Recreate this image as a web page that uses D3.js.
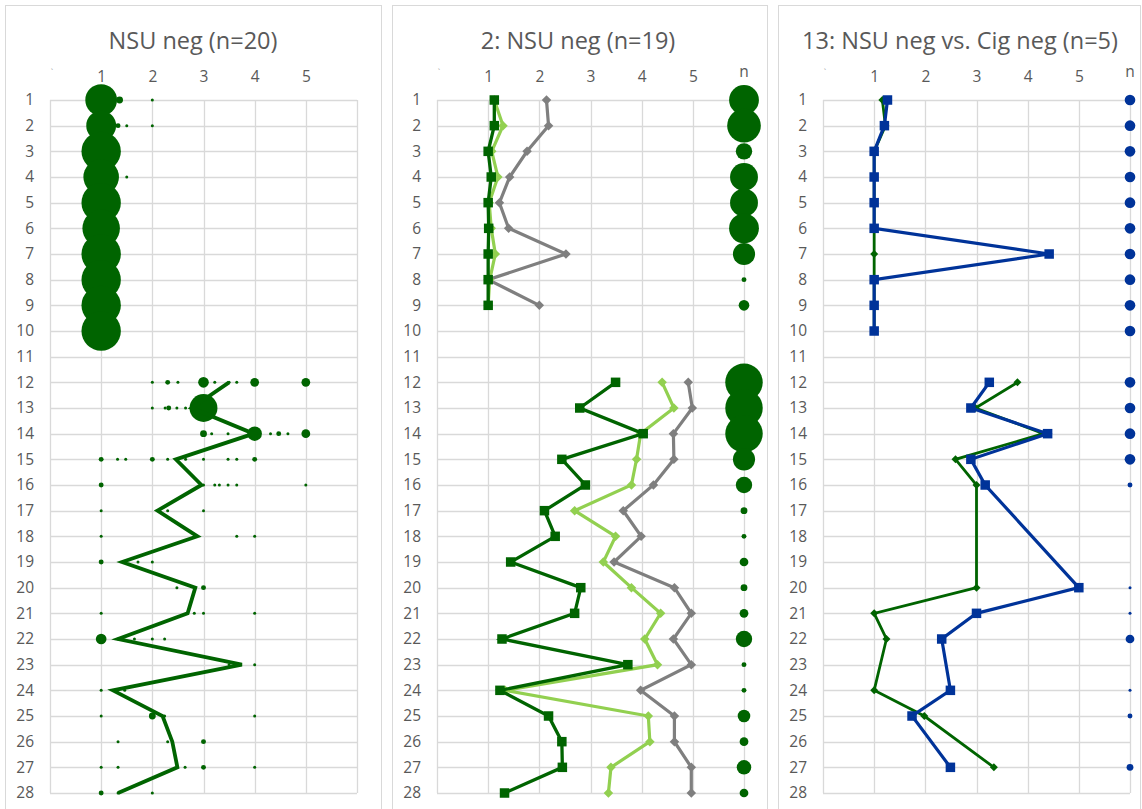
<!DOCTYPE html>
<html><head><meta charset="utf-8">
<script src="https://cdn.jsdelivr.net/npm/d3@7"></script>
<style>
body{margin:0;background:#fff;}
text{font-family:"Open Sans","Noto Sans",sans-serif;}
</style></head>
<body>
<svg id="chart" width="1142" height="809"></svg>
<script>
// ---------- DATA ----------
const rowLabels = d3.range(1, 29).map(String);
const xTickValues = [1, 2, 3, 4, 5];
const titles = ["NSU neg (n=20)", "2: NSU neg (n=19)", "13: NSU neg vs. Cig neg (n=5)"];

// Panel 1: response distribution [row, score, count]
const p1Bubbles = [
  [1,1,16],[1,1.36,3],[1,2,1],
  [2,1,15],[2,1.33,2],[2,1.5,1],[2,2,1],
  [3,1,20],
  [4,1,18],[4,1.5,1],
  [5,1,20],[6,1,19],[7,1,20],[8,1,20],[9,1,20],[10,1,20],
  [12,2,1],[12,2.3,2],[12,2.5,1],[12,3,5],[12,3.22,1],[12,3.5,1],[12,3.65,1],[12,4,4],[12,5,4],
  [13,2,1],[13,2.25,1],[13,2.32,2],[13,2.48,1],[13,2.65,1],[13,3,14],
  [14,3,3],[14,3.16,1],[14,3.48,1],[14,4,7],[14,4.31,1],[14,4.47,2],[14,4.65,1],[14,5,4],
  [15,1,2],[15,1.32,1],[15,1.48,1],[15,2,2],[15,2.3,1],[15,2.65,1],[15,3,1],[15,3.48,1],[15,3.65,1],[15,4,2],
  [16,1,2],[16,3,1],[16,3.22,1],[16,3.31,1],[16,3.48,1],[16,3.65,1],[16,5,1],
  [17,1,1],[17,2.3,1],[17,3,1],
  [18,1,1],[18,3.65,1],[18,4,1],
  [19,1,2],[19,1.72,1],[19,2,1],
  [20,2.48,1],[20,3,2],
  [21,1,1],[21,2.82,1],[21,3,1],[21,4,1],
  [22,1,5],[22,1.33,1],[22,1.65,1],[22,2,1],[22,2.24,1],
  [23,3.5,1],[23,4,1],
  [24,1,1],[24,1.46,1],
  [25,1,1],[25,2,3],[25,2.24,1],[25,4,1],
  [26,1.33,1],[26,2.3,1],[26,3,2],
  [27,1,1],[27,1.33,1],[27,2.64,1],[27,3,2],[27,4,1],
  [28,1,2],[28,1.33,1],[28,2,1]
];
// Panel 1 mean line (rows 1..28)
const p1Mean = [null,null,null,null,null,null,null,null,null,null,null,
  3.50,2.77,3.98,2.46,2.96,2.10,2.88,1.41,2.84,2.69,1.33,3.75,1.23,2.20,2.39,2.49,1.33];

// Panel 2 series (rows 1..28)
const p2Dark = [1.12,1.12,1.0,1.06,1.0,1.01,1.0,1.0,1.0,null,null,
  3.49,2.79,4.03,2.44,2.90,2.10,2.31,1.44,2.81,2.69,1.27,3.73,1.23,2.18,2.44,2.45,1.32];
const p2Light = [1.12,1.29,1.07,1.19,1.02,1.06,1.14,1.03,1.0,null,null,
  4.40,4.63,3.98,3.90,3.80,2.69,3.49,3.25,3.80,4.37,4.06,4.31,1.33,4.13,4.16,3.40,3.35];
const p2Grey = [2.14,2.18,1.76,1.42,1.22,1.40,2.52,1.0,2.0,null,null,
  4.91,4.99,4.62,4.63,4.23,3.64,3.99,3.46,4.64,4.97,4.62,4.97,3.98,4.64,4.64,4.97,4.97];
const p2N = [15,17,8,14,14,15,11,2,5,null,null,
  19,19,19,11,8,3,2,4,3,4,8,2,2,6,4,7,4];

// Panel 3 series (rows 1..28)
const p3Blue = [1.26,1.20,1.0,1.0,1.0,1.0,4.42,1.0,1.0,1.0,null,
  3.25,2.89,4.39,2.89,3.17,null,null,null,5.0,3.0,2.32,null,2.49,1.74,null,2.49,null];
const p3Green = [1.16,1.22,1.0,1.0,1.0,1.0,1.0,1.0,1.0,1.0,null,
  3.80,2.98,4.31,2.59,3.0,null,null,null,3.0,1.0,1.24,null,1.0,1.98,null,3.34,null];
const p3N = [5,5,5,5,5,5,5,5,5,5,null,
  5,5,5,5,2,null,null,null,1,1,4,null,1,2,null,3,null];

// ---------- LAYOUT ----------
const svg = d3.select("#chart");
const darkGreen = "#006400", lightGreen = "#92d050", grey = "#7f7f7f", blue = "#003399";
const gridCol = "#d9d9d9", labelCol = "#595959";

const panels = [
  {frameX: 5, frameW: 376, left: 50, title: titles[0], titleX: 193},
  {frameX: 392, frameW: 375, left: 437, title: titles[1], titleX: 578},
  {frameX: 778, frameW: 362, left: 823, title: titles[2], titleX: 960}
];
const plotW = 307;
const y = d3.scalePoint().domain(rowLabels).range([100, 793]);
const rScale = d3.scaleLinear().domain([1, 20]).range([1.5, 19.7]);

function toPoints(arr) {
  return arr.map((v, i) => ({row: rowLabels[i], v: v}));
}
function blocks(arr) {
  const pts = toPoints(arr);
  const a = pts.slice(0, 10).filter(d => d.v != null);
  const b = pts.slice(11).filter(d => d.v != null);
  return [a, b].filter(s => s.length);
}

const xs = [];
panels.forEach((p, pi) => {
  svg.append("rect").attr("x", p.frameX + 0.5).attr("y", 5.5)
    .attr("width", p.frameW).attr("height", 820)
    .attr("fill", "#fff").attr("stroke", gridCol).attr("stroke-width", 1);

  svg.append("text").attr("x", p.titleX).attr("y", 49)
    .attr("text-anchor", "middle").attr("font-size", 23.5).attr("fill", labelCol)
    .text(p.title);

  const x = d3.scaleLinear().domain([0, 6]).range([p.left, p.left + plotW]);
  xs.push(x);
  const g = svg.append("g");

  // horizontal gridlines
  g.append("g").selectAll("line").data(rowLabels).join("line")
    .attr("x1", p.left).attr("x2", p.left + plotW)
    .attr("y1", d => Math.round(y(d)) + 0.5).attr("y2", d => Math.round(y(d)) + 0.5)
    .attr("stroke", gridCol).attr("stroke-width", 1.3);
  // vertical gridlines
  g.append("g").selectAll("line").data(d3.range(0, 7)).join("line")
    .attr("x1", d => Math.round(x(d)) + 0.5).attr("x2", d => Math.round(x(d)) + 0.5)
    .attr("y1", y("1")).attr("y2", y("28"))
    .attr("stroke", gridCol).attr("stroke-width", 1.3);

  // top axis labels
  const top = g.append("g").attr("transform", "translate(0,85)")
    .call(d3.axisTop(x).tickValues(xTickValues).tickSize(0).tickPadding(3).tickFormat(d3.format("d")));
  top.select(".domain").remove();
  top.selectAll("text").attr("font-size", 15.5).attr("fill", labelCol).style("font-family", "'Open Sans'");

  // tiny mark at origin label position
  g.append("text").attr("x", x(0) + 2).attr("y", 76).attr("font-size", 9)
    .attr("fill", "#aaa").attr("text-anchor", "middle").text("`");

  if (pi > 0) {
    g.append("text").attr("x", x(6)).attr("y", 77).attr("text-anchor", "middle")
      .attr("font-size", 15.5).attr("fill", labelCol).text("n");
  }

  // row labels
  const left = g.append("g").attr("transform", `translate(${p.left},0)`)
    .call(d3.axisLeft(y).tickSize(0).tickPadding(16));
  left.select(".domain").remove();
  left.selectAll("text").attr("font-size", 15.5).attr("fill", labelCol).style("font-family", "'Open Sans'");
});

const lineGen = x => d3.line().x(d => x(d.v)).y(d => y(d.row));

function drawSeries(x, arr, color, width, marker, mSize) {
  const g = svg.append("g");
  blocks(arr).forEach(seg => {
    g.append("path").datum(seg).attr("d", lineGen(x))
      .attr("fill", "none").attr("stroke", color).attr("stroke-width", width)
      .attr("stroke-linejoin", "miter");
  });
  const pts = toPoints(arr).filter(d => d.v != null);
  if (marker === "square") {
    g.selectAll("rect.m").data(pts).join("rect").attr("class", "m")
      .attr("x", d => x(d.v) - mSize / 2).attr("y", d => y(d.row) - mSize / 2)
      .attr("width", mSize).attr("height", mSize).attr("fill", color);
  } else if (marker === "diamond") {
    g.selectAll("path.m").data(pts).join("path").attr("class", "m")
      .attr("d", d3.symbol(d3.symbolSquare, (mSize / Math.SQRT2) ** 2))
      .attr("transform", d => `translate(${x(d.v)},${y(d.row)}) rotate(45)`)
      .attr("fill", color);
  }
}

function drawN(x, arr, color) {
  const pts = toPoints(arr).filter(d => d.v != null);
  svg.append("g").selectAll("circle").data(pts).join("circle")
    .attr("cx", x(6)).attr("cy", d => y(d.row)).attr("r", d => rScale(d.v))
    .attr("fill", color);
}

// Panel 1
svg.append("g").selectAll("circle").data(p1Bubbles).join("circle")
  .attr("cx", d => xs[0](d[1])).attr("cy", d => y(String(d[0])))
  .attr("r", d => rScale(d[2])).attr("fill", darkGreen);
drawSeries(xs[0], p1Mean, darkGreen, 3.8, null, 0);

// Panel 2
drawSeries(xs[1], p2Grey, grey, 3.2, "diamond", 9.5);
drawSeries(xs[1], p2Light, lightGreen, 3.2, "diamond", 9.5);
drawSeries(xs[1], p2Dark, darkGreen, 3.3, "square", 9.5);
drawN(xs[1], p2N, darkGreen);

// Panel 3
drawSeries(xs[2], p3Green, darkGreen, 2.8, "diamond", 8);
drawSeries(xs[2], p3Blue, blue, 3.2, "square", 9.5);
drawN(xs[2], p3N, blue);
</script>
</body></html>
